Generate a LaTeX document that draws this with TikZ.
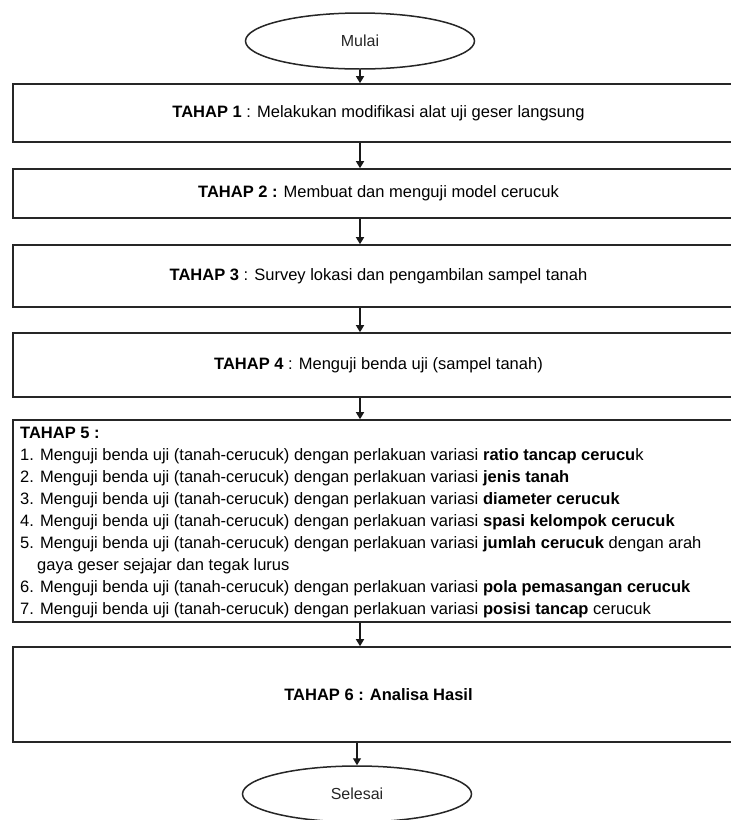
\documentclass[tikz,border=0pt]{standalone}
\usepackage{fontspec}
\setmainfont{Liberation Sans}
\usetikzlibrary{shapes.geometric,arrows.meta}
\begin{document}
\begin{tikzpicture}[x=1pt,y=-1pt,
  box/.style={draw=black!85, line width=1.6pt, rectangle, inner sep=0pt, minimum width=731pt, font=\fontsize{16.5}{22}\selectfont},
  term/.style={draw=black!85, line width=1.5pt, ellipse, inner sep=0pt, minimum width=229pt, minimum height=56pt, font=\fontsize{16}{20}\selectfont, text=black!85},
  arr/.style={draw=black!90, line width=1.3pt, -{Triangle[width=8pt,length=7pt]}},
  listtext/.style={anchor=north west, inner sep=0pt, align=left, font=\fontsize{16.5}{22}\selectfont}]
\useasboundingbox (0,0) rectangle (731,820);
\fill[white] (0,0) rectangle (731,820);
\node[term] (mulai) at (360,41) {Mulai};
\node[box, minimum height=58pt] (t1) at (378.5,113) {\textbf{TAHAP 1} : Melakukan modifikasi alat uji geser langsung};
\node[box, minimum height=49pt] (t2) at (378.5,193.5) {\textbf{TAHAP 2 :} Membuat dan menguji model cerucuk};
\node[box, minimum height=62pt] (t3) at (378.5,276) {\textbf{TAHAP 3} : Survey lokasi dan pengambilan sampel tanah};
\node[box, minimum height=64pt] (t4) at (378.5,365) {\textbf{TAHAP 4} : Menguji benda uji (sampel tanah)};
\node[box, minimum height=202pt] (t5) at (378.5,521) {};
\node[listtext] (t5txt) at (20,422.6) {\strut\textbf{TAHAP 5 :}\\
1. Menguji benda uji (tanah-cerucuk) dengan perlakuan variasi \textbf{ratio tancap cerucu}k\\
2. Menguji benda uji (tanah-cerucuk) dengan perlakuan variasi \textbf{jenis tanah}\\
3. Menguji benda uji (tanah-cerucuk) dengan perlakuan variasi \textbf{diameter cerucuk}\\
4. Menguji benda uji (tanah-cerucuk) dengan perlakuan variasi \textbf{spasi kelompok cerucuk}\\
5. Menguji benda uji (tanah-cerucuk) dengan perlakuan variasi \textbf{jumlah cerucuk} dengan arah\\
\hspace*{17pt}gaya geser sejajar dan tegak lurus\\
6. Menguji benda uji (tanah-cerucuk) dengan perlakuan variasi \textbf{pola pemasangan cerucuk}\\
7. Menguji benda uji (tanah-cerucuk) dengan perlakuan variasi \textbf{posisi tancap} cerucuk};
\node[box, minimum height=95pt] (t6) at (378.5,694.5) {\textbf{TAHAP 6 : Analisa Hasil}};
\node[term] (selesai) at (357,794) {Selesai};
\draw[arr] (mulai.south) -- (mulai.south |- t1.north);
\draw[arr] (t1.south -| mulai) -- (t2.north -| mulai);
\draw[arr] (t2.south -| mulai) -- (t3.north -| mulai);
\draw[arr] (t3.south -| mulai) -- (t4.north -| mulai);
\draw[arr] (t4.south -| mulai) -- (t5.north -| mulai);
\draw[arr] (t5.south -| mulai) -- (t6.north -| mulai);
\draw[arr] (t6.south -| selesai) -- (selesai.north);
\end{tikzpicture}
\end{document}
